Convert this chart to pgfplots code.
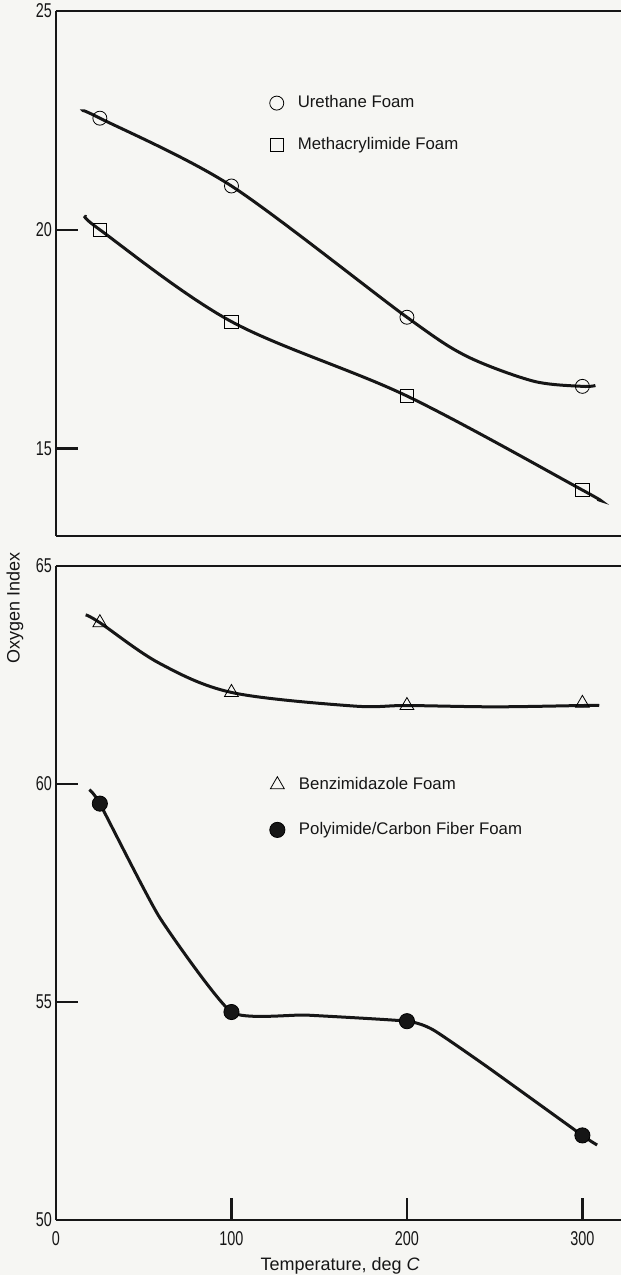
\documentclass[border=0pt]{standalone}
\usepackage{fontspec}
\setmainfont{Liberation Sans}
\newfontfamily\condfont[FakeStretch=0.72]{Liberation Sans}
\usepackage{pgfplots}
\pgfplotsset{compat=1.18}
\usetikzlibrary{backgrounds}

\definecolor{paper}{RGB}{246,246,243}
\definecolor{ink}{RGB}{22,22,22}

\pgfplotsset{
  panel/.style={
    scale only axis, width=282.5pt,
    xmin=0, xmax=322,
    axis x line=box, axis y line=left,
    axis line style={line width=1.2pt, -, ink},
    tick align=inside,
    major tick length=11pt,
    tick style={line width=1.2pt, ink},
    tick label style={font=\condfont\fontsize{10}{12}\selectfont, text=ink},
    yticklabel style={xshift=1.5pt},
    /pgf/number format/assume math mode=true,
    clip=false,
    legend cell align=left,
    legend style={draw=none, fill=none, text=ink,
      font=\fontsize{8.4}{10}\selectfont},
  },
  curve/.style={line width=1.5pt, ink, smooth, no marks, forget plot},
  pts/.style={only marks, mark options={solid, line width=1.1pt, draw=ink}},
}
\newcommand{\gap}{\hspace{5pt}}

\begin{document}
\begin{tikzpicture}

% lower panel
\begin{axis}[panel, name=bot,
  height=327pt,
  ymin=50, ymax=65,
  ytick={50,55,60,65},
  xtick={0,100,200,300},
  xtick pos=bottom,
  xticklabel style={yshift=-2pt},
  ylabel={Oxygen Index},
  ylabel style={at={(axis description cs:-0.0726,0.936)}, anchor=center,
    font=\fontsize{9}{11}\selectfont, text=ink},
  xlabel={Temperature, deg \textit{C}},
  xlabel style={at={(axis description cs:0.503,0)}, anchor=center, yshift=-23pt,
    font=\fontsize{9}{11}\selectfont, text=ink},
  legend style={at={(axis description cs:0.367,0.69)}, anchor=north west,
    row sep=11pt},
]
\addplot[curve, tension=0.55] coordinates {
  (16.9,63.88) (25,63.7) (58.9,62.77) (100,62.1) (169,61.79) (200,61.8)
  (250,61.77) (300,61.8) (309.6,61.8)};
\addplot[curve, tension=0.3] coordinates {
  (19,59.87) (25,59.55) (58.9,56.95) (100,54.77) (142.7,54.70)
  (200,54.56) (215,54.36) (245.5,53.52) (300,51.94) (308.4,51.72)};
\addplot[pts, mark=triangle, mark size=4pt, mark options={fill=paper}] coordinates {
  (25,63.7) (100,62.1) (200,61.8) (300,61.85)};
\addlegendentry{\gap Benzimidazole Foam}
\addplot[pts, mark=*, mark size=3.8pt, mark options={fill=ink}] coordinates {
  (25,59.55) (100,54.77) (200,54.56) (300,51.94)};
\addlegendentry{\gap Polyimide/Carbon Fiber Foam}
\end{axis}

% upper panel
\begin{axis}[panel, name=top,
  at={(0,342pt)},
  height=262.5pt,
  ymin=13, ymax=25,
  ytick={15,20,25},
  xtick=\empty,
  legend style={at={(axis description cs:0.367,0.855)}, anchor=north west,
    row sep=9.5pt},
]
\addplot[curve, tension=0.5] coordinates {
  (15.7,22.71) (25,22.55) (100,21.0) (200,18.0) (234,17.11) (272,16.54)
  (300,16.42) (307.4,16.44)};
\addplot[curve, tension=0.55] coordinates {
  (17.4,20.3) (25,20.0) (100,17.9) (200,16.2) (300,14.05) (308.6,13.84)};
\addplot[pts, mark=o, mark size=3.5pt, mark options={fill=paper}] coordinates {
  (25,22.55) (100,21.0) (200,18.0) (300,16.42)};
\addlegendentry{\gap Urethane Foam}
\addplot[pts, mark=square, mark size=3.3pt, mark options={fill=paper}] coordinates {
  (25,20.0) (100,17.9) (200,16.2) (300,14.05)};
\addlegendentry{\gap Methacrylimide Foam}
\end{axis}

\pgfresetboundingbox
\path[use as bounding box] (-28pt,-27.5pt) rectangle (282.5pt,610pt);
\begin{pgfonlayer}{background}
  \fill[paper] (-28pt,-27.5pt) rectangle (282.5pt,610pt);
\end{pgfonlayer}
\end{tikzpicture}
\end{document}
